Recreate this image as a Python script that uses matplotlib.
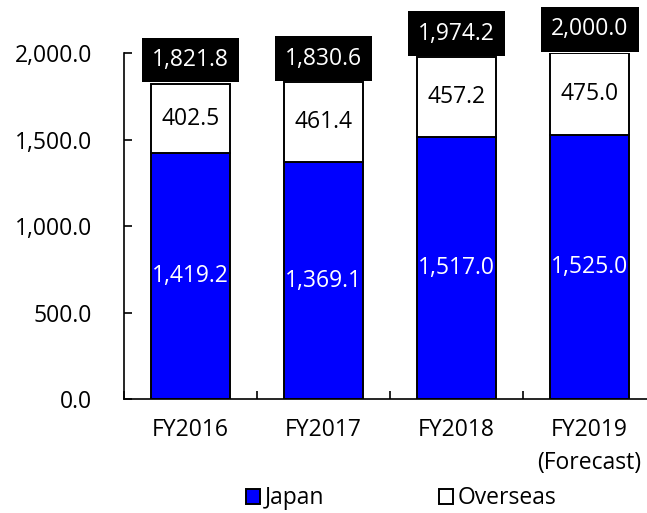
import matplotlib.pyplot as plt
import numpy as np

plt.rcParams['font.family'] = ['Open Sans', 'DejaVu Sans']

years = ['FY2016', 'FY2017', 'FY2018', 'FY2019\n(Forecast)']
japan = [1419.2, 1369.1, 1517.0, 1525.0]
overseas = [402.5, 461.4, 457.2, 475.0]
totals = [1821.8, 1830.6, 1974.2, 2000.0]

fs = 16.5
x = np.arange(len(years))

fig = plt.figure(figsize=(6.47, 5.13), dpi=100)
ax = fig.add_axes([124/647, 114/513, 532/647, 346/513])

b1 = ax.bar(x, japan, 0.59, color='#0000ff', edgecolor='black', linewidth=1.4, label='Japan')
b2 = ax.bar(x, overseas, 0.59, bottom=japan, color='white', edgecolor='black', linewidth=1.4, label='Overseas')

for i in range(len(x)):
    ax.text(x[i], japan[i] / 2, f'{japan[i]:,.1f}', ha='center', va='center',
            color='white', fontsize=fs)
    ax.text(x[i], japan[i] + overseas[i] / 2, f'{overseas[i]:,.1f}', ha='center', va='center',
            color='black', fontsize=fs)
    ax.annotate(f'{totals[i]:,.1f}', (x[i], totals[i]), xytext=(0, 8.5), textcoords='offset points',
                ha='center', va='bottom', color='white', fontsize=fs, annotation_clip=False,
                bbox=dict(boxstyle='square,pad=0.45', facecolor='black', edgecolor='none'))

ax.set_ylim(0, 2000)
ax.set_xlim(-0.5, 3.5)
ax.set_yticks(np.arange(0, 2001, 500))
ax.set_yticklabels([f'{v:,.1f}' for v in np.arange(0, 2001, 500)])
ax.set_xticks(x)
ax.set_xticklabels(years, linespacing=1.5)
ax.set_xticks(np.arange(-0.5, 3.6, 1), minor=True)

ax.tick_params(axis='y', direction='in', length=6, width=1.2, pad=23, labelsize=fs)
ax.tick_params(axis='x', which='major', length=0, pad=14, labelsize=fs)
ax.tick_params(axis='x', which='minor', direction='in', length=6, width=1.2)

for s in ['top', 'right']:
    ax.spines[s].set_visible(False)
ax.spines['left'].set_linewidth(1.2)
ax.spines['bottom'].set_linewidth(1.2)

fig.legend(handles=[b1, b2], loc='lower center', bbox_to_anchor=(0.62, -0.035), ncol=2,
           frameon=False, fontsize=fs, handlelength=0.6, handleheight=0.6,
           handletextpad=0.2, columnspacing=5.0)

fig.savefig('out.png', dpi=100)
